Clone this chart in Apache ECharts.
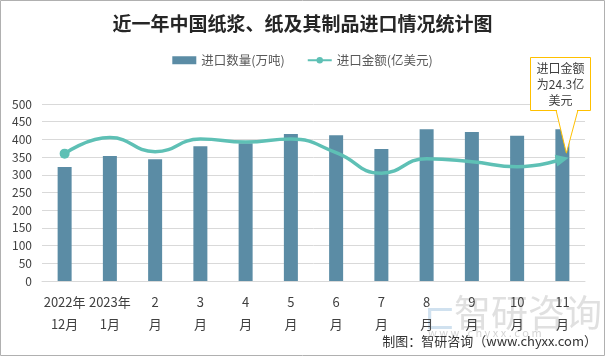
<!DOCTYPE html>
<html><head><meta charset="utf-8">
<script src="https://cdn.jsdelivr.net/npm/echarts@6/dist/echarts.min.js"></script>
<style>html,body{margin:0;padding:0;background:#fff}#c{width:605px;height:356px}</style>
</head><body><div id="c"></div>
<script>
var categories = ['2022年\n12月','2023年\n1月','2\n月','3\n月','4\n月','5\n月','6\n月','7\n月','8\n月','9\n月','10\n月','11\n月'];
var importVolume = [322, 353, 344, 381, 389, 415, 412, 373, 429, 421, 410, 429];
var importValue = [25.4, 28.6, 25.8, 28.3, 27.7, 28.3, 25.6, 21.5, 24.4, 23.8, 22.8, 24.3];
var yTicks = [0, 50, 100, 150, 200, 250, 300, 350, 400, 450, 500];

var FONT = '"Noto Sans CJK SC", "Microsoft YaHei", sans-serif';
var chart = echarts.init(document.getElementById('c'), null, {renderer: 'canvas'});
var lastIdx = importValue.length - 1;
var lineData = importValue.map(function (v, i) {
  if (i === 0) return {value: v, symbol: 'circle', symbolSize: 10};
  if (i === lastIdx) return {value: v, symbol: 'triangle', symbolSize: [12, 13], symbolRotate: -78};
  return {value: v, symbol: 'none'};
});
chart.setOption({
  animation: false,
  textStyle: {fontFamily: FONT},
  title: {
    text: '近一年中国纸浆、纸及其制品进口情况统计图',
    left: 'center', top: 9,
    textStyle: {fontSize: 19, fontWeight: 'bold', color: '#262626', fontFamily: FONT}
  },
  legend: {
    top: 49, left: 'center', itemGap: 22, itemWidth: 24, itemHeight: 8,
    textStyle: {fontSize: 12.5, color: '#595959', fontFamily: FONT},
    data: [
      {name: '进口数量(万吨)', icon: 'rect'},
      {name: '进口金额(亿美元)'}
    ]
  },
  grid: {left: 42, right: 20, top: 104, bottom: 75},
  xAxis: {
    type: 'category', data: categories,
    axisTick: {show: false},
    axisLine: {lineStyle: {color: '#d9d9d9'}},
    axisLabel: {fontSize: 13, color: '#404040', lineHeight: 22, margin: 10, interval: 0, fontFamily: FONT}
  },
  yAxis: [{
    type: 'value', min: yTicks[0], max: yTicks[yTicks.length - 1], interval: yTicks[1] - yTicks[0],
    axisLine: {show: false}, axisTick: {show: false},
    axisLabel: {fontSize: 12, color: '#404040', margin: 10, fontFamily: FONT},
    splitLine: {lineStyle: {color: '#d9d9d9'}}
  }, {
    type: 'value', min: 0, max: 35.3, show: false, splitLine: {show: false}
  }],
  series: [{
    name: '进口数量(万吨)', type: 'bar', data: importVolume, barWidth: 14,
    itemStyle: {color: '#5b8ca5'}
  }, {
    name: '进口金额(亿美元)', type: 'line', yAxisIndex: 1, data: lineData,
    smooth: 0.5, symbol: 'circle', symbolSize: 9,
    lineStyle: {width: 3.5, color: '#5ec0b5'},
    itemStyle: {color: '#5ec0b5'}
  }]
});

var p = chart.convertToPixel({seriesIndex: 1}, [lastIdx, importValue[lastIdx]]);
var tip = [p[0] + 4, p[1] - 6];
chart.setOption({
  graphic: [
    {type: 'rect', shape: {x: 0.5, y: 0.5, width: 604, height: 355}, style: {fill: 'none', stroke: '#b0b0b0', lineWidth: 1}, silent: true},
    {type: 'text', left: 454, top: 294, style: {text: '智研咨询', fontSize: 37, fill: 'rgba(160,160,160,0.33)', fontFamily: FONT}, z: 0},
    {type: 'text', left: 424, top: 296, style: {text: '⊏', fontSize: 38, fill: 'rgba(120,170,210,0.35)', fontFamily: FONT}, z: 0},
    {type: 'text', left: 428, top: 327, style: {text: 'w w w . c h y x x . c o m', fontSize: 11, fill: 'rgba(160,160,160,0.45)', fontFamily: FONT}, z: 0},
    {type: 'text', right: 8, top: 335, style: {text: '制图：智研咨询（www.chyxx.com）', fontSize: 13, fill: '#333', fontFamily: FONT}, z: 10},
    {type: 'polygon', shape: {points: [[556, 110], [tip[0], tip[1]], [578, 110]]}, style: {fill: '#fff', stroke: '#ffc000', lineWidth: 1}, z: 20},
    {type: 'rect', shape: {x: 530.5, y: 57.5, width: 60, height: 53}, style: {fill: '#fff', stroke: '#ffc000', lineWidth: 1}, z: 21},
    {type: 'rect', shape: {x: 557, y: 108, width: 20, height: 3}, style: {fill: '#fff'}, z: 22},
    {type: 'text', x: 560.5, y: 60, style: {text: '进口金额\n为24.3亿\n美元', fontSize: 12, lineHeight: 16, align: 'center', fill: '#404040', fontFamily: FONT}, z: 23}
  ]
});
</script></body></html>
